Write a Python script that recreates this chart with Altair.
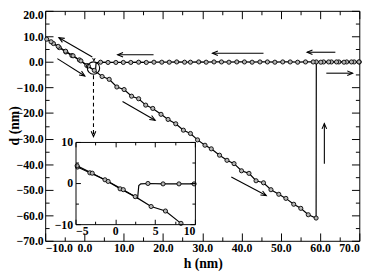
import math
import altair as alt
import pandas as pd

# ---------------- data ----------------
# approach curve (d vs h), in order of acquisition
app_h = [-9.6, -7.9, -6.4, -4.75, -3.2, -1.3, 0.6, 2.5, 4.5, 6.3, 8.25, 10.1, 12.0, 13.8,
         15.6, 17.4, 19.5, 21.3, 23.25, 25.2, 27.0, 28.8, 30.7, 32.3, 34.4, 36.3, 38.1,
         40.0, 41.9, 43.7, 45.6, 47.5, 49.5, 51.3, 53.3, 55.1, 57.0, 59.0, 59.05, 60.9,
         62.9, 64.8, 66.8, 68.7, 70.0]
app_d = [8.9, 7.2, 5.6, 3.9, 2.5, 0.8, -1.4, -3.3, -5.7, -6.8, -9.8, -10.8, -13.4, -14.4,
         -16.9, -18.2, -20.5, -22.5, -24.2, -26.7, -28.0, -30.5, -32.6, -34.0, -36.5, -38.5,
         -39.8, -42.6, -43.6, -46.5, -47.3, -50.0, -51.8, -53.4, -55.7, -57.3, -59.8, -61.1,
         0.0, 0.0, 0.0, 0.0, 0.0, 0.0, 0.0]
app_m = [1] * len(app_h)

# retraction curve, from h = 70 back to h = -10
ret_h = [69.9, 68.0, 66.1, 64.2, 62.2, 60.2, 58.25, 56.3, 54.3, 52.4, 50.5, 48.5, 46.6,
         44.7, 42.7, 40.75, 38.8, 36.8, 34.9, 33.0, 31.0, 29.1, 27.0, 25.5, 23.5, 21.6,
         19.7, 17.7, 15.75, 13.8, 11.8, 9.9, 8.0, 6.0, 4.1, 3.2, 2.95, 2.8, 1.0, -0.9,
         -2.9, -4.8, -6.7, -8.5, -10.0]
ret_d = [0.0, 0.0, -0.1, 0.0, 0.0, -0.1, 0.0, 0.0, -0.1, 0.0, 0.0, -0.1, 0.0, 0.0, -0.1,
         0.0, 0.0, -0.1, 0.0, 0.0, -0.1, 0.0, -0.1, -0.1, 0.0, -0.1, -0.1, -0.1, -0.2,
         -0.1, -0.2, -0.2, -0.2, -0.2, -0.1, -0.2, -0.6, -3.7, -1.6, 0.4, 2.4, 4.2, 6.1,
         7.9, 9.4]
ret_m = [1] * 35 + [0, 0, 0] + [1] * 6 + [0]

# arrows (tail -> head)
arr_x0 = [2.0, -6.9, 9.7, 37.4, 17.6, 45.6, 63.9, 61.6, 61.1]
arr_y0 = [1.9, 1.3, -15.5, -45.0, 2.8, 3.4, 3.8, -4.4, -39.8]
arr_x1 = [-6.5, 0.1, 18.0, 46.3, 8.45, 32.6, 56.7, 68.3, 61.1]
arr_y1 = [9.5, -5.5, -22.8, -52.3, 2.8, 3.4, 3.8, -4.4, -24.1]

# dashed arrow from the circled region to the inset
dash_x0, dash_y0, dash_x1, dash_y1 = [2.3], [-5.2], [2.3], [-29.2]
circ_h, circ_d = [2.3], [-2.4]
small_head_h, small_head_d = [2.4], [0.4]

# axes
x_dom = [-10, 70]
y_dom = [-70, 20]
x_ticks = [v * 5 for v in range(-2, 15)]
y_ticks = [v * 5 for v in range(-14, 5)]
in_x_dom = [-5, 10]
in_y_dom = [-10, 10]
in_x_ticks = [-5, -2.5, 0, 2.5, 5, 7.5, 10]
in_y_ticks = [-10, -5, 0, 5, 10]

# ---------------- layout ----------------
W, H = 321, 235
in_x_range = [31, 153]
in_y_range = [218, 134]

sx = W / (x_dom[1] - x_dom[0])
sy = H / (y_dom[1] - y_dom[0])


def ang(x0, y0, x1, y1):
    return math.degrees(math.atan2((x1 - x0) * sx, (y1 - y0) * sy)) % 360


app_df = pd.DataFrame({"h": app_h, "d": app_d, "m": app_m, "i": range(len(app_h))})
ret_df = pd.DataFrame({"h": ret_h, "d": ret_d, "m": ret_m, "i": range(len(ret_h))})
arr_df = pd.DataFrame({"x0": arr_x0, "y0": arr_y0, "x1": arr_x1, "y1": arr_y1})
arr_df["a"] = [ang(*r) for r in zip(arr_x0, arr_y0, arr_x1, arr_y1)]
dash_df = pd.DataFrame({"x0": dash_x0, "y0": dash_y0, "x1": dash_x1, "y1": dash_y1})
dash_df["a"] = [ang(*r) for r in zip(dash_x0, dash_y0, dash_x1, dash_y1)]
circ_df = pd.DataFrame({"h": circ_h, "d": circ_d})
small_df = pd.DataFrame({"h": small_head_h, "d": small_head_d, "a": [180.0]})
box_df = pd.DataFrame({"h0": [in_x_dom[0]], "h1": [in_x_dom[1]],
                       "d0": [in_y_dom[0]], "d1": [in_y_dom[1]]})

xs = alt.Scale(domain=x_dom, nice=False, zero=False)
ys = alt.Scale(domain=y_dom, nice=False, zero=False)
ixs = alt.Scale(domain=in_x_dom, range=in_x_range, nice=False, zero=False)
iys = alt.Scale(domain=in_y_dom, range=in_y_range, nice=False, zero=False)

FONT = "Liberation Serif, Times New Roman, serif"
HEAD = "M -0.45 1.05 L 0 0 L 0.45 1.05"
lbl10 = "datum.value % 10 === 0 ? format(datum.value, '.1f') : ''"
tick10 = {"expr": "-(datum.value % 10 === 0 ? 8 : 4)"}

ax_bottom = alt.Axis(orient="bottom", values=x_ticks, tickSize=tick10, labelExpr=lbl10,
                     labelPadding=10, title="h (nm)", titleX=161, titleY=23,
                     titleFontSize=14, titleAlign="center", titleBaseline="middle")
ax_top = alt.Axis(orient="top", values=x_ticks, tickSize=tick10, labels=False, title=None)
ax_left = alt.Axis(orient="left", values=y_ticks, tickSize=tick10, labelExpr=lbl10,
                   labelPadding=10, labelOffset={"expr": "datum.value === 20 ? 4 : 0"},
                   title="d (nm)", titleAngle=270, titleX=-31, titleY=117,
                   titleFontSize=14, titleAlign="center", titleBaseline="middle")
ax_right = alt.Axis(orient="right", values=y_ticks, tickSize=tick10, labels=False, title=None)

tick5 = {"expr": "-(datum.value % 5 === 0 ? 5 : 3)"}
tick10i = {"expr": "-(datum.value % 10 === 0 ? 5 : 3)"}
iax_bottom = alt.Axis(orient="bottom", values=in_x_ticks, tickSize=tick5, offset=-17,
                      labelExpr="datum.value % 5 === 0 ? format(datum.value, 'd') : ''",
                      labelPadding=7, title=None, zindex=1)
iax_top = alt.Axis(orient="top", values=in_x_ticks, tickSize=tick5, offset=-134,
                   labels=False, title=None, zindex=1)
iax_left = alt.Axis(orient="left", values=in_y_ticks, tickSize=tick10i, offset=-31,
                    labelExpr="datum.value % 10 === 0 ? format(datum.value, 'd') : ''",
                    labelPadding=8, title=None, zindex=1)
iax_right = alt.Axis(orient="right", values=in_y_ticks, tickSize=tick10i, offset=-168,
                     labels=False, title=None, zindex=1)

line_kw = dict(color="black", strokeWidth=1.2)
pt_kw = dict(shape="circle", filled=True, fill="#b5b5b5", stroke="black",
             strokeWidth=0.9, size=18, opacity=1)

# ---------------- main panel ----------------
m_app = alt.Chart(app_df).mark_line(**line_kw).encode(
    x=alt.X("h:Q", scale=xs, axis=ax_bottom),
    y=alt.Y("d:Q", scale=ys, axis=ax_left),
    order="i:Q")
m_ret = alt.Chart(ret_df).mark_line(**line_kw).encode(
    x=alt.X("h:Q", scale=xs, axis=ax_top),
    y=alt.Y("d:Q", scale=ys, axis=ax_right),
    order="i:Q")
m_app_pts = alt.Chart(app_df).mark_point(**pt_kw).encode(
    x=alt.X("h:Q", scale=xs, axis=None), y=alt.Y("d:Q", scale=ys, axis=None)
).transform_filter("datum.m === 1")
m_ret_pts = alt.Chart(ret_df).mark_point(**pt_kw).encode(
    x=alt.X("h:Q", scale=xs, axis=None), y=alt.Y("d:Q", scale=ys, axis=None)
).transform_filter("datum.m === 1")
arrows = alt.Chart(arr_df).mark_rule(color="black", strokeWidth=1.1).encode(
    x=alt.X("x0:Q", scale=xs, axis=None), y=alt.Y("y0:Q", scale=ys, axis=None),
    x2="x1:Q", y2="y1:Q")
heads = alt.Chart(arr_df).mark_point(shape=HEAD, filled=False, color="black",
                                     strokeWidth=1.1, size=110, opacity=1).encode(
    x=alt.X("x1:Q", scale=xs, axis=None), y=alt.Y("y1:Q", scale=ys, axis=None),
    angle=alt.Angle("a:Q", scale=None))
dash = alt.Chart(dash_df).mark_rule(color="black", strokeWidth=1.1, strokeDash=[4, 3]).encode(
    x=alt.X("x0:Q", scale=xs, axis=None), y=alt.Y("y0:Q", scale=ys, axis=None),
    x2="x1:Q", y2="y1:Q")
dash_head = alt.Chart(dash_df).mark_point(shape=HEAD, filled=False, color="black",
                                          strokeWidth=1.1, size=110, opacity=1).encode(
    x=alt.X("x1:Q", scale=xs, axis=None), y=alt.Y("y1:Q", scale=ys, axis=None),
    angle=alt.Angle("a:Q", scale=None))
small_head = alt.Chart(small_df).mark_point(shape=HEAD, filled=False, color="black",
                                            strokeWidth=1, size=30, opacity=1).encode(
    x=alt.X("h:Q", scale=xs, axis=None), y=alt.Y("d:Q", scale=ys, axis=None),
    angle=alt.Angle("a:Q", scale=None))
circle = alt.Chart(circ_df).mark_point(shape="circle", filled=False, color="black",
                                       strokeWidth=1.1, size=160, opacity=1).encode(
    x=alt.X("h:Q", scale=xs, axis=None), y=alt.Y("d:Q", scale=ys, axis=None))

main = alt.layer(m_app, m_ret, m_app_pts, m_ret_pts, arrows, heads, dash, dash_head,
                 small_head, circle).resolve_axis(x="independent", y="independent")

# ---------------- inset ----------------
in_filter = "datum.h >= -5 && datum.h <= 10 && datum.d >= -10 && datum.d <= 10"
i_box = alt.Chart(box_df).mark_rect(fill="white").encode(
    x=alt.X("h0:Q", scale=ixs, axis=iax_bottom), x2="h1:Q",
    y=alt.Y("d0:Q", scale=iys, axis=iax_left), y2="d1:Q")
i_app = alt.Chart(app_df).mark_line(**line_kw).encode(
    x=alt.X("h:Q", scale=ixs, axis=iax_top),
    y=alt.Y("d:Q", scale=iys, axis=iax_right),
    order="i:Q").transform_filter(in_filter)
i_ret = alt.Chart(ret_df).mark_line(**line_kw).encode(
    x=alt.X("h:Q", scale=ixs, axis=None), y=alt.Y("d:Q", scale=iys, axis=None),
    order="i:Q").transform_filter(in_filter)
i_app_pts = alt.Chart(app_df).mark_point(**pt_kw).encode(
    x=alt.X("h:Q", scale=ixs, axis=None), y=alt.Y("d:Q", scale=iys, axis=None)
).transform_filter(in_filter + " && datum.m === 1")
i_ret_pts = alt.Chart(ret_df).mark_point(**pt_kw).encode(
    x=alt.X("h:Q", scale=ixs, axis=None), y=alt.Y("d:Q", scale=iys, axis=None)
).transform_filter(in_filter + " && datum.m === 1")

inset = alt.layer(i_box, i_app, i_ret, i_app_pts, i_ret_pts).resolve_axis(
    x="independent", y="independent")

chart = alt.layer(main, inset).resolve_scale(x="independent", y="independent").properties(
    width=W, height=H, autosize=alt.AutoSizeParams(type="none"),
    padding={"left": 38, "top": 0, "right": 14, "bottom": 30},
    background="white",
).configure_view(stroke=None).configure_axis(
    grid=False, domainColor="black", domainWidth=1, tickColor="black", tickWidth=1,
    labelColor="black", labelFont=FONT, labelFontWeight="bold",
    labelFontSize=12, titleColor="black", titleFont=FONT,
    titleFontWeight="bold", titleFontSize=15)

chart.save("out.html", embed_options={"renderer": "svg", "actions": False})
